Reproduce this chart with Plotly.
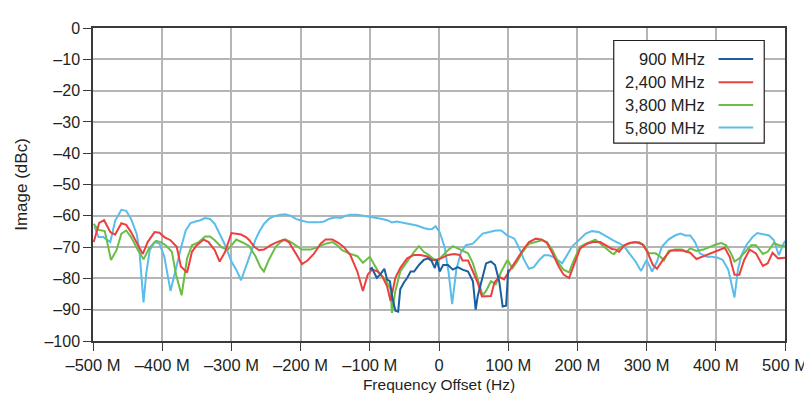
import plotly.graph_objects as go

# ---------------- data (frequency offset in MHz, image in dBc) ----------------
f900_x = [-100, -97, -90, -85, -79, -75, -71, -67, -63, -59, -56, -51, -46, -41, -36, -29, -22, -16, -11, -6, -3,
          1, 6, 13, 20, 27, 34, 42, 49, 53, 56, 63, 68, 75, 81, 87, 92, 97, 100]
f900_y = [-77.2, -76.7, -79.8, -78.8, -76.9, -80.4, -80.9, -86.6, -90.3, -90.6, -83.5, -81.4, -79.9, -77.8, -77.8,
          -75.7, -74.1, -73.6, -74.3, -76.7, -74.1, -77.8, -75.7, -75.7, -77.2, -76.4, -77.2, -77.8, -80.9, -90.0,
          -85.6, -79.9, -75.2, -74.6, -75.7, -80.9, -89.0, -88.7, -77.2]

f2400_x = [-499, -491, -484, -475, -468, -459, -452, -445, -435, -428, -421, -411, -404, -397, -388, -379, -373, -364,
           -357, -350, -340, -333, -324, -317, -309, -300, -286, -279, -274, -267, -260, -253, -243, -234, -224, -217,
           -207, -198, -190, -181, -171, -164, -154, -145, -137, -128, -118, -110, -103, -97, -89, -82, -75, -70, -63,
           -56, -46, -36, -27, -17, -10, -4, 3, 13, 22, 30, 34, 42, 49, 56, 62, 68, 75, 80, 87, 94, 101, 111, 121, 130,
           140, 149, 156, 164, 173, 180, 188, 195, 204, 214, 223, 233, 243, 250, 256, 260, 268, 275, 284, 294, 301,
           309, 315, 325, 334, 344, 353, 363, 372, 382, 391, 401, 413, 420, 427, 434, 441, 449, 458, 468, 475, 482,
           490, 500]
f2400_y = [-68.4, -62.3, -61.4, -65.2, -66.0, -62.4, -62.9, -65.2, -69.4, -72.2, -68.4, -65.2, -65.4, -66.8, -67.8,
           -69.9, -76.2, -78.1, -71.5, -69.4, -67.6, -68.4, -71.0, -74.6, -71.5, -65.5, -66.0, -66.8, -67.8, -69.9,
           -71.0, -70.8, -69.4, -68.4, -67.6, -68.4, -72.0, -75.4, -74.3, -72.2, -68.9, -67.6, -67.6, -68.7, -70.1,
           -72.6, -77.8, -84.0, -78.8, -77.2, -77.7, -79.3, -82.5, -87.2, -79.8, -76.7, -73.6, -72.5, -72.5, -73.0,
           -74.1, -74.1, -73.6, -72.5, -72.2, -72.5, -74.3, -74.3, -77.8, -81.4, -85.8, -85.6, -85.6, -81.4, -79.5,
           -80.3, -77.8, -74.6, -71.0, -68.4, -67.3, -67.6, -68.7, -72.0, -76.2, -78.8, -79.9, -75.7, -70.4, -68.9,
           -68.4, -68.4, -69.7, -70.6, -70.8, -71.5, -69.4, -68.7, -68.4, -69.1, -71.5, -75.7, -76.9, -73.6, -71.2,
           -71.0, -71.2, -71.8, -73.8, -72.9, -72.0, -71.3, -70.2, -73.1, -78.8, -78.8, -74.1, -70.8, -72.0, -76.0,
           -75.2, -71.8, -73.6, -73.4]

f3800_x = [-499, -492, -483, -474, -466, -459, -452, -445, -435, -427, -419, -409, -402, -395, -386, -380, -372, -364,
           -357, -347, -338, -331, -324, -314, -305, -293, -283, -274, -272, -265, -258, -253, -246, -236, -229, -222,
           -214, -205, -198, -186, -176, -164, -154, -147, -140, -130, -118, -110, -100, -92, -85, -77, -70, -68, -63,
           -56, -46, -36, -29, -22, -15, -8, -1, 6, 13, 20, 27, 34, 42, 49, 56, 63, 68, 75, 82, 90, 99, 106, 113, 121,
           130, 140, 149, 156, 164, 173, 180, 188, 195, 204, 214, 226, 235, 243, 250, 253, 260, 268, 277, 289, 296,
           303, 313, 320, 325, 332, 341, 351, 358, 363, 372, 382, 391, 401, 408, 415, 422, 427, 434, 441, 451, 458,
           468, 475, 484, 491, 500]
f3800_y = [-62.6, -64.5, -64.9, -74.1, -71.0, -65.7, -64.7, -66.8, -71.0, -73.9, -70.4, -68.0, -68.4, -69.4, -71.5,
           -78.8, -85.4, -73.6, -69.4, -68.4, -66.6, -66.6, -67.8, -70.1, -70.8, -67.6, -68.6, -69.7, -70.5, -73.0,
           -76.4, -77.8, -74.1, -69.9, -68.4, -67.5, -68.4, -69.9, -70.8, -70.8, -70.1, -68.9, -68.4, -69.4, -71.0,
           -72.0, -72.9, -75.0, -73.1, -76.2, -78.8, -80.4, -83.5, -91.0, -84.0, -77.8, -74.6, -71.5, -69.7, -71.5,
           -72.5, -73.8, -74.1, -72.5, -71.0, -69.7, -70.4, -71.0, -72.0, -75.2, -80.4, -85.4, -84.0, -80.9, -81.9,
           -77.8, -74.1, -76.7, -74.6, -71.5, -68.9, -68.4, -67.8, -68.4, -71.0, -75.2, -77.2, -78.1, -74.1, -69.9,
           -68.7, -67.6, -69.2, -70.9, -72.0, -72.2, -70.4, -69.4, -68.7, -68.4, -69.4, -72.0, -72.0, -73.1, -74.3,
           -71.2, -70.8, -70.8, -71.5, -70.4, -71.2, -70.8, -69.9, -69.1, -68.7, -69.4, -72.0, -74.6, -73.6, -72.0,
           -69.4, -69.4, -72.2, -71.5, -68.7, -69.4, -69.7]

f5800_x = [-498, -492, -485, -475, -468, -459, -452, -445, -437, -433, -427, -423, -418, -411, -404, -397, -388, -381,
           -373, -366, -359, -352, -345, -338, -331, -324, -317, -309, -300, -293, -286, -279, -272, -265, -260, -253,
           -246, -238, -229, -222, -214, -207, -198, -188, -181, -174, -166, -159, -150, -142, -135, -128, -118, -109,
           -99, -89, -82, -75, -68, -61, -51, -41, -32, -22, -15, -10, -5, 1, 8, 14, 19, 25, 32, 39, 49, 56, 63, 73,
           82, 90, 99, 109, 116, 123, 130, 137, 145, 152, 159, 166, 173, 178, 185, 192, 202, 212, 221, 231, 240, 246,
           253, 260, 268, 275, 284, 292, 300, 308, 315, 322, 332, 341, 349, 356, 363, 370, 377, 387, 394, 403, 410,
           418, 422, 427, 432, 437, 444, 453, 460, 470, 477, 484, 491, 496, 500]
f5800_y = [-63.4, -66.8, -66.8, -68.4, -61.6, -58.1, -58.4, -61.0, -65.7, -71.0, -87.7, -78.3, -71.0, -68.4, -68.9,
           -73.0, -84.0, -77.2, -70.4, -64.7, -62.3, -61.8, -61.4, -60.7, -61.0, -62.6, -65.7, -69.4, -74.6, -77.2,
           -80.6, -76.2, -72.0, -67.5, -65.2, -62.6, -61.0, -60.1, -59.7, -59.5, -60.0, -61.0, -61.6, -62.1, -62.1,
           -62.1, -61.8, -61.0, -60.5, -60.7, -60.0, -59.7, -59.7, -60.0, -60.3, -60.7, -61.0, -61.4, -62.1, -61.8,
           -62.3, -62.6, -63.1, -63.9, -64.3, -64.2, -63.3, -65.2, -69.9, -78.3, -88.2, -77.2, -71.5, -69.4, -68.9,
           -67.3, -65.7, -65.2, -64.7, -64.7, -66.3, -67.3, -70.4, -74.1, -76.9, -76.4, -74.1, -72.6, -72.6, -73.3,
           -74.3, -75.2, -72.6, -69.9, -67.8, -65.7, -64.9, -65.2, -66.3, -67.2, -68.0, -68.7, -69.9, -72.0, -74.6,
           -77.6, -74.1, -77.8, -74.6, -69.9, -67.5, -66.3, -65.7, -66.3, -66.3, -68.4, -72.0, -73.1, -73.1, -73.4,
           -74.1, -77.2, -81.4, -86.1, -77.2, -72.6, -69.4, -66.8, -65.5, -66.0, -66.3, -67.8, -72.6, -69.9, -68.0]

series_names = ["900 MHz", "2,400 MHz", "3,800 MHz", "5,800 MHz"]
series_colors = ["#1a5fa0", "#ec4040", "#6cbd45", "#5bbdea"]

x_tickvals = [-500, -400, -300, -200, -100, 0, 100, 200, 300, 400, 500]
x_ticktext = ["–500 M", "–400 M", "–300 M", "–200 M", "–100 M", "0", "100 M", "200 M", "300 M", "400 M", "500 M"]
y_tickvals = [0, -10, -20, -30, -40, -50, -60, -70, -80, -90, -100]
y_ticktext = ["0", "–10", "–20", "–30", "–40", "–50", "–60", "–70", "–80", "–90", "–100"]

# ---------------- figure ----------------
FONT = "Liberation Sans, Arial, Helvetica, sans-serif"
TXT = "#231f20"

data = [(f900_x, f900_y), (f2400_x, f2400_y), (f3800_x, f3800_y), (f5800_x, f5800_y)]
fig = go.Figure()
for idx in [3, 2, 1, 0]:
    xs, ys = data[idx]
    fig.add_trace(go.Scatter(x=xs, y=ys, mode="lines", name=series_names[idx],
                             line=dict(color=series_colors[idx], width=2), showlegend=False))

# custom legend (text right-aligned, line sample on the right)
lx0, lx1, ly0, ly1 = 0.7525, 0.970, 0.632, 0.960
shapes = [dict(type="rect", xref="paper", yref="paper", x0=lx0, x1=lx1, y0=ly0, y1=ly1,
               line=dict(color=TXT, width=1.2), fillcolor="white", layer="above")]
annotations = []
row_y = [0.901, 0.827, 0.754, 0.682]
for name, col, ry in zip(series_names, series_colors, row_y):
    annotations.append(dict(xref="paper", yref="paper", x=0.887, y=ry, text=name, showarrow=False,
                            xanchor="right", yanchor="middle", font=dict(family=FONT, size=16.5, color=TXT)))
    shapes.append(dict(type="line", xref="paper", yref="paper", x0=0.904, x1=0.954, y0=ry, y1=ry,
                       line=dict(color=col, width=2), layer="above"))

fig.update_layout(
    width=812, height=395,
    margin=dict(l=85, r=28, t=13, b=62),
    paper_bgcolor="white", plot_bgcolor="white",
    font=dict(family=FONT, size=16, color=TXT),
    shapes=shapes, annotations=annotations,
    showlegend=False,
)
fig.update_xaxes(
    range=[-500, 500], tickvals=x_tickvals, ticktext=x_ticktext,
    showgrid=True, gridcolor="#b5b5b5", gridwidth=1.5,
    showline=True, linecolor="#3a3a3a", linewidth=1.5, mirror=True,
    ticks="outside", ticklen=8, tickcolor="#3a3a3a", tickwidth=1.2,
    tickfont=dict(size=16.5, color=TXT), zeroline=False,
    title=dict(text="Frequency Offset (Hz)", font=dict(size=15.5, color=TXT), standoff=7),
)
fig.update_yaxes(
    range=[-100, 0], tickvals=y_tickvals, ticktext=y_ticktext,
    showgrid=True, gridcolor="#b5b5b5", gridwidth=1.5,
    showline=True, linecolor="#3a3a3a", linewidth=1.5, mirror=True,
    ticks="outside", ticklen=8, tickcolor="#3a3a3a", tickwidth=1.2,
    tickfont=dict(size=16, color=TXT), zeroline=False,
    title=dict(text="Image (dBc)", font=dict(size=17, color=TXT), standoff=13),
)

fig.write_html("out.html")
